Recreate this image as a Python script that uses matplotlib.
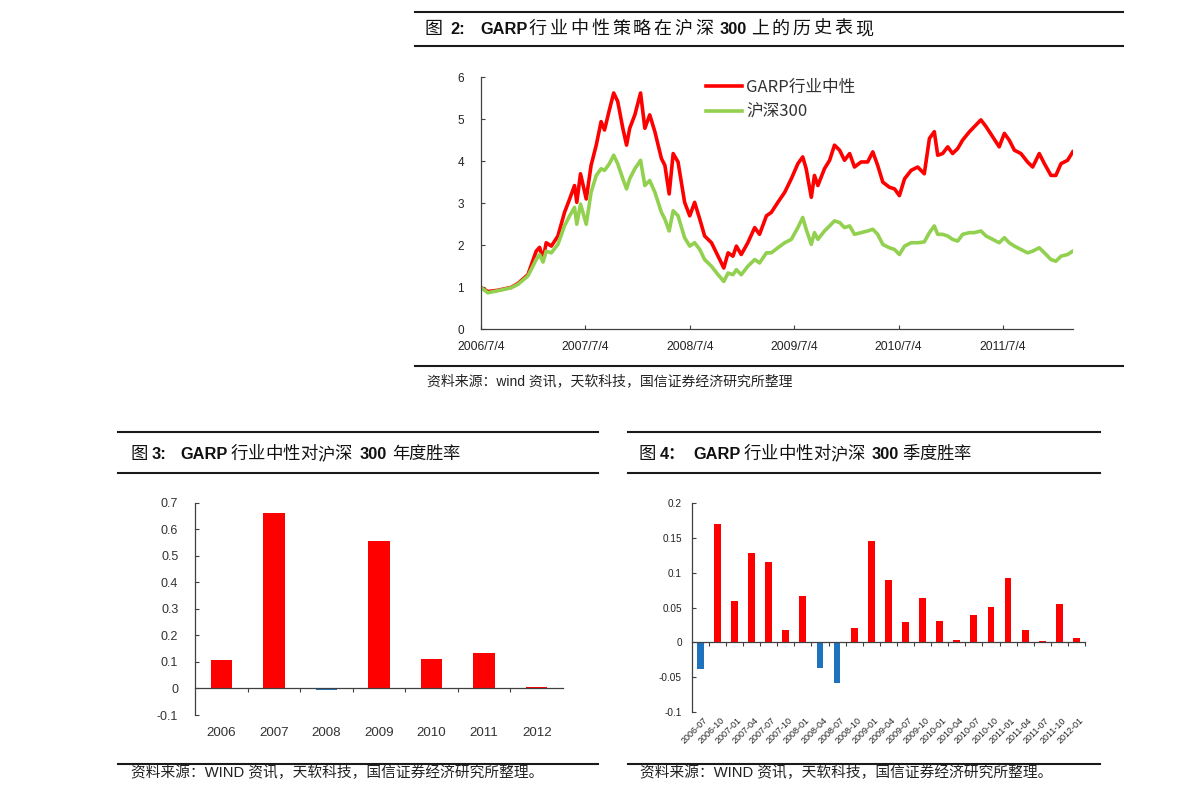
import matplotlib
matplotlib.use('Agg')
import matplotlib.pyplot as plt
import matplotlib.dates as mdates
from matplotlib.lines import Line2D
from matplotlib.ticker import FuncFormatter, FixedLocator
from matplotlib.font_manager import FontProperties
import matplotlib.transforms as mtransforms
import pandas as pd

# ---------------- data ----------------
dates = [
    "2006-07-04", "2006-07-29", "2006-09-02", "2006-10-19", "2006-11-11", "2006-12-16",
    "2007-01-14", "2007-01-26", "2007-02-07", "2007-02-18", "2007-03-08", "2007-03-31",
    "2007-04-23", "2007-05-11", "2007-05-28", "2007-06-05", "2007-06-18", "2007-07-08",
    "2007-07-25", "2007-08-12", "2007-08-29", "2007-09-10", "2007-09-27", "2007-10-12",
    "2007-10-26", "2007-11-13", "2007-11-26", "2007-12-07", "2007-12-25", "2008-01-14",
    "2008-01-29", "2008-02-15", "2008-03-04", "2008-03-27", "2008-04-08", "2008-04-23",
    "2008-05-07", "2008-05-24", "2008-06-16", "2008-07-04", "2008-07-21", "2008-08-08",
    "2008-08-25", "2008-09-18", "2008-10-11", "2008-10-31", "2008-11-15", "2008-12-02",
    "2008-12-14", "2008-12-31", "2009-01-23", "2009-02-16", "2009-03-05", "2009-03-29",
    "2009-04-15", "2009-05-08", "2009-06-01", "2009-06-24", "2009-07-17", "2009-08-03",
    "2009-08-15", "2009-09-02", "2009-09-13", "2009-09-25", "2009-10-18", "2009-11-05",
    "2009-11-22", "2009-12-10", "2009-12-27", "2010-01-14", "2010-01-31", "2010-02-23",
    "2010-03-18", "2010-04-05", "2010-04-22", "2010-05-10", "2010-06-02", "2010-06-20",
    "2010-07-07", "2010-07-25", "2010-08-17", "2010-09-09", "2010-10-02", "2010-10-20",
    "2010-11-06", "2010-11-18", "2010-12-05", "2010-12-23", "2011-01-09", "2011-01-27",
    "2011-02-13", "2011-03-09", "2011-03-26", "2011-04-18", "2011-05-06", "2011-05-29",
    "2011-06-21", "2011-07-09", "2011-07-26", "2011-08-13", "2011-09-05", "2011-09-28",
    "2011-10-16", "2011-11-08", "2011-11-26", "2011-12-19", "2012-01-05", "2012-01-23",
    "2012-02-15", "2012-03-04",
]
garp = [
    1.00, 0.90, 0.93, 1.00, 1.09, 1.30,
    1.86, 1.95, 1.66, 2.06, 1.98, 2.22,
    2.78, 3.10, 3.42, 3.02, 3.70, 3.10,
    3.90, 4.38, 4.94, 4.74, 5.22, 5.62,
    5.42, 4.78, 4.38, 4.78, 5.10, 5.62,
    4.78, 5.10, 4.70, 4.06, 3.90, 3.22,
    4.18, 3.98, 3.02, 2.70, 3.02, 2.62,
    2.22, 2.06, 1.74, 1.46, 1.82, 1.74,
    1.98, 1.78, 2.06, 2.42, 2.26, 2.70,
    2.78, 3.02, 3.26, 3.58, 3.94, 4.10,
    3.82, 3.14, 3.66, 3.42, 3.82, 4.02,
    4.38, 4.26, 4.02, 4.18, 3.86, 3.98,
    3.98, 4.22, 3.90, 3.50, 3.38, 3.34,
    3.18, 3.58, 3.78, 3.86, 3.70, 4.54,
    4.70, 4.14, 4.18, 4.34, 4.18, 4.30,
    4.50, 4.70, 4.82, 4.98, 4.82, 4.58,
    4.34, 4.66, 4.50, 4.26, 4.18, 3.98,
    3.86, 4.18, 3.94, 3.66, 3.66, 3.94,
    4.02, 4.22,
]
hs300 = [
    1.00, 0.87, 0.92, 0.99, 1.07, 1.27,
    1.66, 1.78, 1.60, 1.86, 1.82, 2.02,
    2.46, 2.70, 2.90, 2.50, 2.98, 2.50,
    3.26, 3.66, 3.82, 3.78, 3.94, 4.14,
    3.94, 3.58, 3.34, 3.58, 3.82, 4.02,
    3.42, 3.54, 3.26, 2.78, 2.62, 2.34,
    2.82, 2.70, 2.18, 1.98, 2.06, 1.90,
    1.66, 1.50, 1.30, 1.14, 1.34, 1.30,
    1.42, 1.30, 1.50, 1.66, 1.58, 1.82,
    1.82, 1.94, 2.06, 2.14, 2.42, 2.66,
    2.38, 2.02, 2.30, 2.14, 2.34, 2.46,
    2.58, 2.54, 2.42, 2.46, 2.26, 2.30,
    2.34, 2.38, 2.26, 2.02, 1.94, 1.90,
    1.78, 1.98, 2.06, 2.06, 2.08, 2.30,
    2.46, 2.26, 2.26, 2.22, 2.14, 2.10,
    2.26, 2.30, 2.30, 2.34, 2.22, 2.14,
    2.06, 2.18, 2.06, 1.98, 1.90, 1.82,
    1.86, 1.94, 1.82, 1.66, 1.62, 1.74,
    1.78, 1.86,
]
line_tick_dates = ["2006-07-04", "2007-07-04", "2008-07-04", "2009-07-04", "2010-07-04", "2011-07-04"]
line_tick_labels = ["2006/7/4", "2007/7/4", "2008/7/4", "2009/7/4", "2010/7/4", "2011/7/4"]
line_names = ["GARP行业中性", "沪深300"]

years = ["2006", "2007", "2008", "2009", "2010", "2011", "2012"]
annual_win = [0.106, 0.663, -0.004, 0.557, 0.110, 0.133, 0.004]

quarters = ["2006-07", "2006-10", "2007-01", "2007-04", "2007-07", "2007-10", "2008-01",
            "2008-04", "2008-07", "2008-10", "2009-01", "2009-04", "2009-07", "2009-10",
            "2010-01", "2010-04", "2010-07", "2010-10", "2011-01", "2011-04", "2011-07",
            "2011-10", "2012-01"]
quarter_win = [-0.038, 0.170, 0.059, 0.128, 0.116, 0.018, 0.067,
               -0.037, -0.059, 0.021, 0.146, 0.089, 0.029, 0.063,
               0.031, 0.004, 0.039, 0.051, 0.093, 0.018, 0.002,
               0.055, 0.006]

# title pieces: (text, kind)  kind: 'c' = CJK regular, 'l' = latin bold
title2 = [("图", 'c'), ("2:", 'l'), ("GARP", 'l'), ("行业中性策略在沪深", 'c'), ("300", 'l'), ("上的历史表现", 'c')]
title3 = [("图", 'c'), ("3:", 'l'), ("GARP", 'l'), ("行业中性对沪深", 'c'), ("300", 'l'), ("年度胜率", 'c')]
title4 = [("图", 'c'), ("4：", 'l'), ("GARP", 'l'), ("行业中性对沪深", 'c'), ("300", 'l'), ("季度胜率", 'c')]
source2 = "资料来源：wind 资讯，天软科技，国信证券经济研究所整理"
source34 = "资料来源：WIND 资讯，天软科技，国信证券经济研究所整理。"

# ---------------- layout helpers ----------------
W, H = 1191, 802
fig = plt.figure(figsize=(W / 100, H / 100), dpi=100)
fig.patch.set_facecolor('white')

def rect(l, t, r, b):
    return [l / W, 1 - b / H, (r - l) / W, (b - t) / H]

def hline(x0, x1, y, lw=1.5):
    fig.add_artist(Line2D([x0 / W, x1 / W], [1 - y / H, 1 - y / H],
                          color='#1a1a1a', lw=lw, transform=fig.transFigure))

def ftext(x, y, s, **kw):
    return fig.text(x / W, 1 - y / H, s, transform=fig.transFigure, **kw)

LAT = ['Liberation Sans', 'Noto Sans CJK SC', 'DejaVu Sans']
CJK = ['Noto Sans CJK SC', 'DejaVu Sans']
AXC = '#404040'
TXC = '#222222'
RED = '#FF0000'
GREEN = '#92D050'
BLUE = '#1F73BE'
fmt_g = FuncFormatter(lambda v, p: '%g' % round(v, 4))

def title_runs(y, pieces, starts, pitches, cjk_size=13):
    for (txt, kind), x0, pitch in zip(pieces, starts, pitches):
        if kind == 'l':
            ftext(x0, y, txt, fontsize=11.8, fontweight='bold', family=LAT,
                  va='center', ha='left', color='#111111')
        else:
            for i, ch in enumerate(txt):
                ftext(x0 + i * pitch, y, ch, fontsize=cjk_size, fontweight='medium', family=CJK,
                      va='center', ha='left', color='#111111')

# ---------------- figure 2 (line) ----------------
hline(415, 1123, 12)
hline(415, 1123, 46)
title_runs(29, title2, [425, 450, 480, 529, 720, 751], [0, 0, 0, 20.8, 0, 20.8])
hline(415, 1123, 366)
ftext(427, 381, source2, fontsize=10, family=LAT, va='center', ha='left', color=TXC)

ax1 = fig.add_axes(rect(480.7, 77, 1073, 329.4))
d = pd.to_datetime(dates)
ax1.plot(d, garp, color=RED, lw=2.6, label=line_names[0], solid_joinstyle='round')
ax1.plot(d, hs300, color=GREEN, lw=2.6, label=line_names[1], solid_joinstyle='round')
ax1.set_xlim(mdates.date2num(pd.Timestamp("2006-07-04")), mdates.date2num(pd.Timestamp("2012-03-05")))
ax1.set_ylim(0, 6)
ax1.set_yticks(range(0, 7))
ax1.yaxis.set_major_formatter(fmt_g)
ax1.set_xticks(mdates.date2num(pd.to_datetime(line_tick_dates)))
ax1.set_xticklabels(line_tick_labels)
for s in ['top', 'right']:
    ax1.spines[s].set_visible(False)
for s in ['left', 'bottom']:
    ax1.spines[s].set_color(AXC)
    ax1.spines[s].set_linewidth(0.9)
ax1.tick_params(axis='y', direction='in', length=3, pad=12, labelsize=8.5, colors=AXC, labelcolor=TXC)
ax1.tick_params(axis='x', direction='in', length=3, pad=8, labelsize=8.8, colors=AXC, labelcolor=TXC)
for lab in ax1.get_xticklabels() + ax1.get_yticklabels():
    lab.set_family(LAT)
leg = ax1.legend(loc='upper left', bbox_to_anchor=((706 - 480.7) / 592.3, (329.4 - 79) / 252.4),
                 frameon=False, borderpad=0, borderaxespad=0,
                 prop=FontProperties(family=CJK, size=12), handlelength=2.15,
                 handletextpad=0.25, labelspacing=0.45)
for t in leg.get_texts():
    t.set_color('#333333')

# ---------------- figure 3 (annual bars) ----------------
hline(118, 598, 432)
hline(118, 598, 473)
title_runs(454, title3, [130, 152, 180, 231, 360, 392], [0, 0, 0, 17.3, 0, 16.8], cjk_size=12.5)
hline(118, 598, 764)
ftext(131, 773, source34, fontsize=10.6, family=LAT, va='center', ha='left', color=TXC)

ax2 = fig.add_axes(rect(195, 502.7, 563, 715))
x2 = list(range(len(years)))
ax2.bar(x2, annual_win, width=0.41, color=[RED if v >= 0 else BLUE for v in annual_win])
ax2.set_xlim(-0.5, len(years) - 0.5)
ax2.set_ylim(-0.1, 0.7)
ax2.set_yticks([i / 10 for i in range(-1, 8)])
ax2.yaxis.set_major_formatter(fmt_g)
ax2.spines['bottom'].set_position(('data', 0))
for s in ['top', 'right']:
    ax2.spines[s].set_visible(False)
for s in ['left', 'bottom']:
    ax2.spines[s].set_color(AXC)
    ax2.spines[s].set_linewidth(0.9)
ax2.xaxis.set_major_locator(FixedLocator([i + 0.5 for i in range(len(years) - 1)]))
ax2.tick_params(axis='x', direction='out', length=3, labelbottom=False, colors=AXC)
ax2.tick_params(axis='y', direction='in', length=3, pad=12, labelsize=9, colors=AXC, labelcolor='#333333')
for lab in ax2.get_yticklabels():
    lab.set_family(LAT)
tr2 = mtransforms.blended_transform_factory(ax2.transData, fig.transFigure)
for xi, lab in zip(x2, years):
    ax2.text(xi, 1 - 733 / H, lab, transform=tr2, ha='center', va='center',
             fontsize=9.6, family=LAT, color='#333333')

# ---------------- figure 4 (quarterly bars) ----------------
hline(628, 1100, 432)
hline(628, 1100, 473)
title_runs(454, title4, [639, 660, 693, 744, 872, 902], [0, 0, 0, 17.2, 0, 17.2], cjk_size=12.5)
hline(628, 1100, 764)
ftext(640, 773, source34, fontsize=10.6, family=LAT, va='center', ha='left', color=TXC)

ax3 = fig.add_axes(rect(691.7, 503, 1085, 712))
x3 = list(range(len(quarters)))
ax3.bar(x3, quarter_win, width=0.4, color=[RED if v >= 0 else BLUE for v in quarter_win])
ax3.set_xlim(-0.5, len(quarters) - 0.5)
ax3.set_ylim(-0.1, 0.2)
ax3.set_yticks([-0.1, -0.05, 0, 0.05, 0.1, 0.15, 0.2])
ax3.yaxis.set_major_formatter(fmt_g)
ax3.spines['bottom'].set_position(('data', 0))
for s in ['top', 'right']:
    ax3.spines[s].set_visible(False)
for s in ['left', 'bottom']:
    ax3.spines[s].set_color(AXC)
    ax3.spines[s].set_linewidth(0.9)
ax3.xaxis.set_major_locator(FixedLocator([i + 0.5 for i in range(len(quarters))]))
ax3.tick_params(axis='x', direction='out', length=3, labelbottom=False, colors=AXC)
ax3.tick_params(axis='y', direction='in', length=3, pad=7, labelsize=7.2, colors=AXC, labelcolor=TXC)
for lab in ax3.get_yticklabels():
    lab.set_family(LAT)
tr3 = mtransforms.blended_transform_factory(ax3.transData, fig.transFigure)
for xi, lab in zip(x3, quarters):
    ax3.text(xi + 0.15, 1 - 716 / H, lab, transform=tr3, ha='right', va='top',
             rotation=45, rotation_mode='anchor', fontsize=6.5, family=LAT, color=TXC)

fig.savefig('out.png', dpi=100)
